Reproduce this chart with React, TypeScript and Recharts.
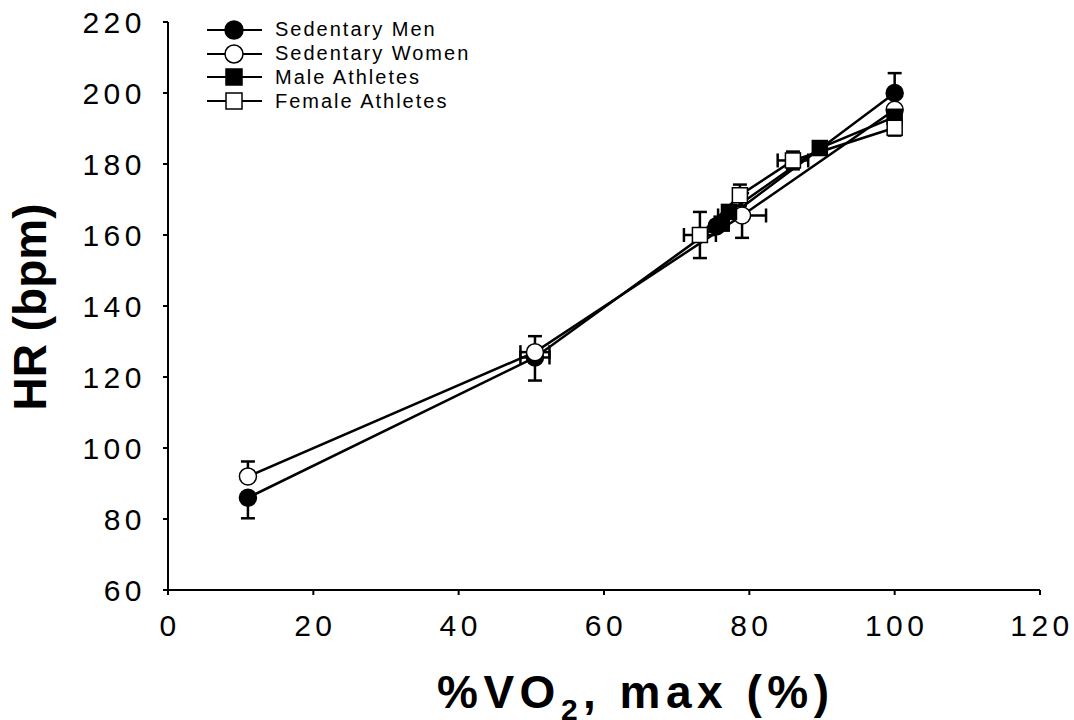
import React from "react";
import { ScatterChart, Scatter, XAxis, YAxis, ErrorBar } from "recharts";

// %VO2max vs heart rate, four groups
const xTicks = [0, 20, 40, 60, 80, 100, 120];
const yTicks = [60, 80, 100, 120, 140, 160, 180, 200, 220];

const sedentaryMen = [
  { x: 11, y: 86, ey: [5.8, 0] },
  { x: 50.5, y: 125.5, ey: [6.5, 0], ex: 2 },
  { x: 75.5, y: 162.5 },
  { x: 100, y: 200, ey: [0, 5.6] },
];
const sedentaryWomen = [
  { x: 11, y: 92, ey: [0, 4.2] },
  { x: 50.5, y: 127, ey: [0, 4.5], ex: 2 },
  { x: 79, y: 165.5, ey: 6.3, ex: 3.3 },
  { x: 100, y: 195.3 },
];
const maleAthletes = [
  { x: 76.2, y: 163.2 },
  { x: 77.2, y: 166.5 },
  { x: 89.7, y: 184.5 },
  { x: 100, y: 193.3 },
];
const femaleAthletes = [
  { x: 73.2, y: 160, ey: 6.5, ex: 2.2 },
  { x: 78.7, y: 171.2, ey: 3 },
  { x: 86, y: 181, ey: 2.5, ex: 2.1 },
  { x: 100, y: 190.2, ey: [2.2, 0] },
];

const FONT = "'Liberation Sans', Arial, sans-serif";

const series = [
  { name: "Sedentary Men", data: sedentaryMen, kind: "circle", fill: "#000" },
  { name: "Sedentary Women", data: sedentaryWomen, kind: "circle", fill: "#fff" },
  { name: "Male Athletes", data: maleAthletes, kind: "square", fill: "#000" },
  { name: "Female Athletes", data: femaleAthletes, kind: "square", fill: "#fff" },
];

function Marker({ cx, cy, kind, fill, size = 17 }: any) {
  const h = size / 2;
  if (kind === "circle") {
    return <circle cx={cx} cy={cy} r={h} fill={fill} stroke="#000" strokeWidth={1.5} />;
  }
  return <rect x={cx - h + 1} y={cy - h + 1} width={size - 2} height={size - 2} fill={fill} stroke="#000" strokeWidth={1.5} />;
}

function LegendBox() {
  return (
    <div style={{ position: "absolute", left: 206, top: 18, fontFamily: FONT }}>
      {series.map((s) => (
        <div key={s.name} style={{ display: "flex", alignItems: "center", height: 23.8 }}>
          <svg width={64} height={22} style={{ display: "block" }}>
            <line x1={1} x2={56} y1={11} y2={11} stroke="#000" strokeWidth={2} />
            <Marker cx={28} cy={11} kind={s.kind} fill={s.fill} size={18} />
          </svg>
          <span style={{ fontSize: 20, letterSpacing: 2, marginLeft: 5, color: "#000", whiteSpace: "nowrap" }}>
            {s.name}
          </span>
        </div>
      ))}
    </div>
  );
}

function XTitle() {
  return (
    <text x={437} y={708} fontFamily={FONT} fontWeight="bold" fontSize={46} letterSpacing={5.5} fill="#000">
      %VO<tspan fontSize={30} dy={12}>2</tspan>
      <tspan dy={-12}>, max (%)</tspan>
    </text>
  );
}

function YTitle() {
  return (
    <text
      x={30}
      y={307}
      transform="rotate(-90 30 307)"
      textAnchor="middle"
      dominantBaseline="central"
      fontFamily={FONT}
      fontWeight="bold"
      fontSize={46}
      fill="#000"
    >
      HR (bpm)
    </text>
  );
}

const yTickStyle = { fontSize: 30, fill: "#000", fontFamily: FONT, letterSpacing: 4.5 };
const xTickStyle = { ...yTickStyle, dx: 2 };

export default function App() {
  return (
    <div style={{ position: "absolute", left: 0, top: 0, width: 1074, height: 720, background: "#fff" }}>
      <ScatterChart width={1074} height={720} margin={{ top: 22, right: 34, bottom: 0, left: 0 }}>
        <XAxis
          type="number"
          dataKey="x"
          domain={[0, 120]}
          ticks={xTicks}
          height={130}
          axisLine={{ stroke: "#000", strokeWidth: 2 }}
          tickLine={{ stroke: "#000", strokeWidth: 2 }}
          tickSize={5}
          tickMargin={20}
          tick={xTickStyle}
          label={<XTitle />}
        />
        <YAxis
          type="number"
          dataKey="y"
          domain={[60, 220]}
          ticks={yTicks}
          width={168}
          axisLine={{ stroke: "#000", strokeWidth: 2 }}
          tickLine={{ stroke: "#000", strokeWidth: 2 }}
          tickSize={5}
          tickMargin={17}
          tick={yTickStyle}
          label={<YTitle />}
        />
        {series.map((s) => (
          <Scatter
            key={s.name}
            name={s.name}
            data={s.data}
            line={{ stroke: "#000", strokeWidth: 2.5 }}
            shape={(p: any) => <Marker cx={p.cx} cy={p.cy} kind={s.kind} fill={s.fill} />}
            isAnimationActive={false}
          >
            <ErrorBar dataKey="ey" direction="y" width={7} stroke="#000" strokeWidth={2.5} />
            <ErrorBar dataKey="ex" direction="x" width={7} stroke="#000" strokeWidth={2.5} />
          </Scatter>
        ))}
      </ScatterChart>
      <LegendBox />
    </div>
  );
}
